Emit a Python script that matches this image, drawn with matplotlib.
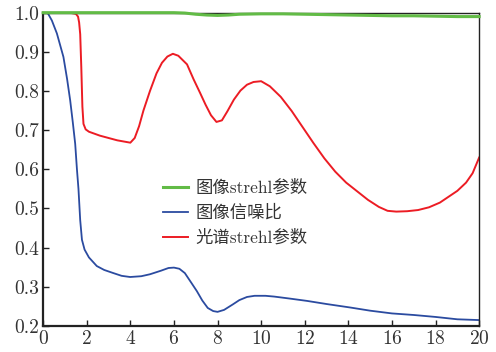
import matplotlib.pyplot as plt

plt.rcParams['font.family'] = ['cmr10', 'Noto Sans CJK SC']
plt.rcParams['axes.formatter.use_mathtext'] = True

# Image strehl parameter
x_img_strehl = [0, 6.0, 6.5, 7.0, 7.5, 8.0, 8.5, 9.0, 10.0, 11.0, 12.0, 13.0, 14.0,
                15.0, 16.0, 17.0, 18.0, 19.0, 20.0]
y_img_strehl = [1.0, 1.0, 0.999, 0.996, 0.994, 0.993, 0.994, 0.996, 0.997, 0.997, 0.996,
                0.995, 0.994, 0.993, 0.992, 0.992, 0.991, 0.990, 0.990]

# Image SNR
x_img_snr = [0.2, 0.4, 0.63, 0.93, 1.1, 1.24, 1.36, 1.47, 1.55, 1.62, 1.70, 1.78, 1.9,
             2.1, 2.46, 2.8, 3.22, 3.6, 3.99, 4.5, 4.9, 5.4, 5.75, 6.0, 6.25, 6.5, 6.8,
             7.05, 7.3, 7.55, 7.8, 8.0, 8.3, 8.7, 9.0, 9.35, 9.7, 10.2, 10.6, 11.3,
             12.1, 13.0, 14.1, 15.0, 16.0, 17.0, 18.0, 19.0, 20.0]
y_img_snr = [1.0, 0.98, 0.947, 0.887, 0.83, 0.776, 0.72, 0.665, 0.60, 0.55, 0.47, 0.42,
             0.395, 0.375, 0.353, 0.343, 0.335, 0.328, 0.325, 0.327, 0.332, 0.341, 0.348,
             0.349, 0.346, 0.335, 0.31, 0.289, 0.265, 0.246, 0.238, 0.236, 0.241, 0.255,
             0.266, 0.274, 0.277, 0.277, 0.275, 0.270, 0.264, 0.256, 0.247, 0.239, 0.232,
             0.228, 0.223, 0.217, 0.215]

# Spectrum strehl parameter
x_spec_strehl = [0, 1.0, 1.3, 1.5, 1.6, 1.65, 1.7, 1.75, 1.8, 1.85, 1.95, 2.1, 2.6, 3.0,
                 3.4, 3.7, 4.0, 4.2, 4.4, 4.6, 4.9, 5.2, 5.45, 5.7, 5.95, 6.2, 6.6, 6.9,
                 7.2, 7.45, 7.7, 7.95, 8.2, 8.45, 8.75, 9.05, 9.35, 9.65, 10.0, 10.4,
                 10.9, 11.4, 11.9, 12.4, 12.9, 13.4, 13.9, 14.4, 14.9, 15.4, 15.8, 16.2,
                 16.7, 17.2, 17.7, 18.2, 18.6, 19.0, 19.4, 19.7, 20.0]
y_spec_strehl = [1.0, 1.0, 0.999, 0.997, 0.99, 0.975, 0.945, 0.86, 0.76, 0.716, 0.702,
                 0.696, 0.686, 0.680, 0.674, 0.671, 0.668, 0.68, 0.71, 0.75, 0.80, 0.845,
                 0.872, 0.888, 0.895, 0.89, 0.868, 0.83, 0.795, 0.765, 0.738, 0.721, 0.725,
                 0.748, 0.778, 0.801, 0.816, 0.823, 0.825, 0.812, 0.785, 0.749, 0.708,
                 0.667, 0.628, 0.594, 0.566, 0.544, 0.522, 0.504, 0.494, 0.492, 0.493,
                 0.496, 0.503, 0.515, 0.53, 0.545, 0.566, 0.59, 0.63]

labels = ['图像strehl参数', '图像信噪比', '光谱strehl参数']

fig = plt.figure(figsize=(4.96, 3.52), dpi=100)
ax = fig.add_axes([0.087, 0.074, 0.879, 0.89])

ax.plot(x_img_strehl, y_img_strehl, color='#62bb46', lw=2.2, label=labels[0],
        clip_on=False, zorder=4)
ax.plot(x_img_snr, y_img_snr, color='#2b4ba0', lw=1.3, label=labels[1])
ax.plot(x_spec_strehl, y_spec_strehl, color='#ec1c24', lw=1.4, label=labels[2])

ax.set_xlim(0, 20)
ax.set_ylim(0.2, 1.0)
ax.set_xticks(range(0, 21, 2))
ax.set_yticks([0.2, 0.3, 0.4, 0.5, 0.6, 0.7, 0.8, 0.9, 1.0])
ax.set_yticklabels(['0.2', '0.3', '0.4', '0.5', '0.6', '0.7', '0.8', '0.9', '1.0'])
ax.tick_params(direction='in', length=4, width=1, labelsize=14, color='#222222',
               labelcolor='#333333', pad=3)

for side in ['left', 'bottom']:
    ax.spines[side].set_linewidth(1.6)
for side in ['top', 'right']:
    ax.spines[side].set_linewidth(1.0)
for sp in ax.spines.values():
    sp.set_color('#222222')

ax.legend(loc='center left', bbox_to_anchor=(0.275, 0.362), frameon=False,
          fontsize=12.5, handlelength=1.45, handletextpad=0.4, labelspacing=0.5,
          borderpad=0, borderaxespad=0, labelcolor='#333333')

fig.savefig('out.png', dpi=100)
